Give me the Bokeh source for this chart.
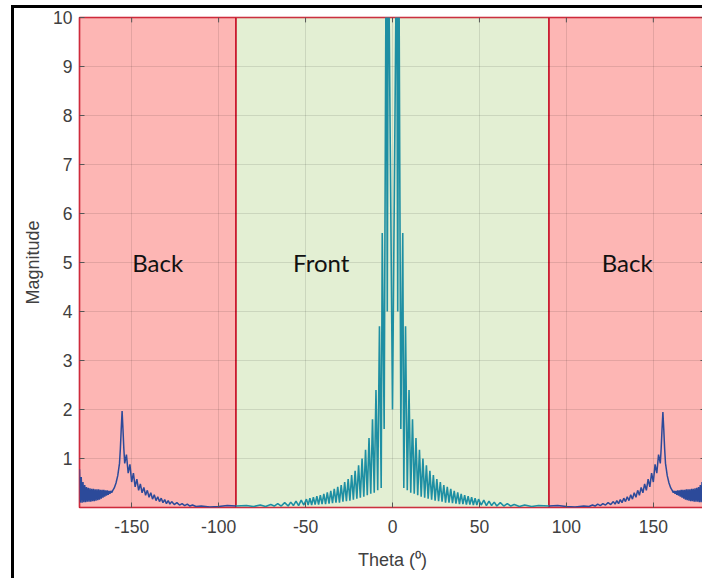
from bokeh.plotting import figure
from bokeh.models import ColumnDataSource, FixedTicker
from bokeh.core.properties import value
from bokeh.embed import file_html
from bokeh.resources import INLINE

# ---- data ----
region_names = ["Back", "Front", "Back"]
region_start = [-180, -90, 90]
region_end = [-90, 90, 180]
region_label_x = [-135, -41, 135]
region_label_y = [5, 5, 5]

x_ticks = [-150, -100, -50, 0, 50, 100, 150]
x_tick_labels = ["-150", "-100", "-50", "0", "50", "100", "150"]
y_ticks = [1, 2, 3, 4, 5, 6, 7, 8, 9, 10]

# front (teal) trace
front_theta = [
    -90, -84, -80, -76, -73, -70, -68, -66, -64, -62, -60, -58.5, -57, -55.5, -54, -52.5, -51,
    -49.5, -48.5, -47.5, -46.5, -45.5, -44.5, -43.5, -42.5, -41.5, -40.5, -39.5, -38.5, -37.5,
    -36.5, -35.5, -34.5, -33.5, -32.5, -31.5, -30.5, -29.5, -28.5, -27.5, -26.5, -25.5, -24.5,
    -23.5, -22.5, -21.5, -20.5, -19.5, -18.5, -17.5, -16.5, -15.5, -14.5, -13.5, -12.5, -11.5,
    -10.5, -9.5, -8.5, -7.5, -6.5,
    -5.9, -4.8, -3.6, -3.0, -2.4, 0, 2.4, 3.0, 3.6, 4.8, 5.9,
    6.5, 7.5, 8.5, 9.5, 10.5, 11.5, 12.5, 13.5, 14.5, 15.5, 16.5, 17.5, 18.5, 19.5, 20.5, 21.5,
    22.5, 23.5, 24.5, 25.5, 26.5, 27.5, 28.5, 29.5, 30.5, 31.5, 32.5, 33.5, 34.5, 35.5, 36.5,
    37.5, 38.5, 39.5, 40.5, 41.5, 42.5, 43.5, 44.5, 45.5, 46.5, 47.5, 48.5, 49.5, 51, 52.5, 54,
    55.5, 57, 58.5, 60, 62, 64, 66, 68, 70, 73, 76, 80, 84, 90,
]
front_mag = [
    0.03, 0.04, 0.02, 0.05, 0.02, 0.06, 0.03, 0.08, 0.03, 0.10, 0.03, 0.11, 0.04, 0.13, 0.04, 0.15, 0.05,
    0.17, 0.05, 0.19, 0.05, 0.21, 0.06, 0.23, 0.06, 0.25, 0.07, 0.28, 0.07, 0.31,
    0.08, 0.34, 0.09, 0.38, 0.10, 0.42, 0.10, 0.46, 0.12, 0.52, 0.13, 0.58, 0.14,
    0.66, 0.16, 0.75, 0.18, 0.86, 0.20, 1.00, 0.22, 1.18, 0.25, 1.42, 0.28, 1.80,
    0.30, 2.40, 0.35, 3.70, 0.40,
    5.6, 1.6, 12.0, 4.0, 12.0, 2.0, 12.0, 4.0, 12.0, 1.6, 5.6,
    0.40, 3.70, 0.35, 2.40, 0.30, 1.80, 0.28, 1.42, 0.25, 1.18, 0.22, 1.00, 0.20, 0.86, 0.18, 0.75,
    0.16, 0.66, 0.14, 0.58, 0.13, 0.52, 0.12, 0.46, 0.10, 0.42, 0.10, 0.38, 0.09, 0.34, 0.08,
    0.31, 0.07, 0.28, 0.07, 0.25, 0.06, 0.23, 0.06, 0.21, 0.05, 0.19, 0.05, 0.17, 0.05, 0.15, 0.04,
    0.13, 0.04, 0.11, 0.03, 0.10, 0.03, 0.08, 0.03, 0.06, 0.02, 0.05, 0.02, 0.04, 0.03,
]

# back (blue) trace, left side
back_left_theta = [
    -180, -179.5, -179, -178.5, -178, -177.5, -177, -176.5, -176, -175.5, -175, -174.5, -174,
    -173.5, -173, -172.5, -172, -171.5, -171, -170.5, -170, -169.5, -169, -168.5, -168, -167.5,
    -167, -166.5, -166, -165.5, -165, -164.5, -164, -163.5, -163, -162.5, -162, -161.5, -161,
    -160, -159, -158, -157, -156.5, -156, -155.5, -155, -154.5, -154, -153, -152, -151, -150,
    -149, -148, -147, -146, -145, -144, -143, -142, -141, -140, -139, -138, -137, -136, -135,
    -134, -133, -132, -131, -130, -129, -128, -127, -125.5, -124, -122.5, -121, -119.5, -118,
    -116.5, -115, -113, -110, -105, -100, -95, -90,
]
back_left_mag = [
    0.78, 0.10, 0.62, 0.10, 0.52, 0.11, 0.46, 0.11, 0.42, 0.12, 0.40, 0.12, 0.39,
    0.12, 0.38, 0.13, 0.38, 0.13, 0.37, 0.14, 0.37, 0.15, 0.37, 0.16, 0.36, 0.18,
    0.36, 0.20, 0.36, 0.22, 0.35, 0.24, 0.35, 0.26, 0.34, 0.28, 0.34, 0.30, 0.34,
    0.40, 0.50, 0.65, 0.90, 1.20, 1.60, 1.97, 1.60, 1.20, 0.90, 1.08, 0.70, 0.88, 0.52,
    0.70, 0.42, 0.58, 0.35, 0.48, 0.30, 0.41, 0.25, 0.35, 0.21, 0.30, 0.17, 0.26, 0.14, 0.22,
    0.12, 0.19, 0.10, 0.16, 0.08, 0.14, 0.07, 0.12, 0.06, 0.10, 0.05, 0.08, 0.04, 0.07,
    0.03, 0.05, 0.02, 0.03, 0.01, 0.02, 0.04, 0.03,
]

# back (blue) trace, right side
back_right_theta = [
    90, 95, 100, 105, 110, 113, 115, 116.5, 118, 119.5, 121, 122.5, 124, 125.5, 127, 128, 129,
    130, 131, 132, 133, 134, 135, 136, 137, 138, 139, 140, 141, 142, 143, 144, 145, 146, 147,
    148, 149, 150, 151, 152, 153, 154, 154.5, 155, 155.5, 156, 156.5, 157, 158, 159, 160,
    161, 161.5, 162, 162.5, 163, 163.5, 164, 164.5, 165, 165.5, 166, 166.5, 167, 167.5, 168,
    168.5, 169, 169.5, 170, 170.5, 171, 171.5, 172, 172.5, 173, 173.5, 174, 174.5, 175, 175.5,
    176, 176.5, 177, 177.5, 178, 178.5, 179, 179.5, 180,
]
back_right_mag = [
    0.03, 0.04, 0.02, 0.01, 0.03, 0.02, 0.05, 0.03, 0.07, 0.04, 0.08, 0.05, 0.10, 0.06, 0.12, 0.07, 0.14,
    0.08, 0.16, 0.10, 0.19, 0.12, 0.22, 0.14, 0.26, 0.17, 0.30, 0.21, 0.35, 0.25, 0.41, 0.30, 0.48, 0.35, 0.58,
    0.42, 0.70, 0.52, 0.88, 0.70, 1.08, 0.90, 1.20, 1.60, 1.95, 1.60, 1.20, 0.90, 0.65, 0.50, 0.40,
    0.34, 0.30, 0.34, 0.28, 0.34, 0.26, 0.35, 0.24, 0.35, 0.22, 0.36, 0.20, 0.36, 0.18, 0.36,
    0.16, 0.37, 0.15, 0.37, 0.14, 0.37, 0.13, 0.38, 0.13, 0.38, 0.12, 0.39, 0.12, 0.40, 0.12,
    0.42, 0.11, 0.46, 0.11, 0.52, 0.10, 0.60, 0.10, 0.64,
]

# ---- styles ----
REGION_FILL = {"Back": "#FDB6B4", "Front": "#E3EFD3"}
EDGE_RED = "#C8162B"
TEAL = "#1E8FA3"
BLUE = "#2C4A9A"
TICK_FONT = "Liberation Sans"
LABEL_COLOR = "#404040"
TICK_COLOR = "#555555"

p = figure(
    width=691, height=573,
    x_range=(-180, 180), y_range=(0, 10),
    output_backend="svg", toolbar_location=None,
    min_border_left=65, min_border_right=0, min_border_top=9, min_border_bottom=74,
    background_fill_color="white", border_fill_color="white",
)
p.styles = {"border-left": "3px solid black", "border-top": "3px solid black"}
p.margin = (5, 0, 0, 11)

regions = ColumnDataSource(dict(
    left=region_start, right=region_end,
    bottom=[0, 0, 0], top=[10, 10, 10],
    fill=[REGION_FILL[n] for n in region_names],
))
p.quad(left="left", right="right", bottom="bottom", top="top", source=regions,
       fill_color="fill", line_color=EDGE_RED, line_width=1.6, level="image")

# mirrored tick marks on the top and right edges of the box
x_lo, x_hi = p.x_range.start, p.x_range.end
y_lo, y_hi = p.y_range.start, p.y_range.end
tick_len_y = (y_hi - y_lo) * 0.01
tick_len_x = (x_hi - x_lo) * 0.008
p.segment(x0=x_ticks, x1=x_ticks, y0=[y_hi] * len(x_ticks),
          y1=[y_hi - tick_len_y] * len(x_ticks), line_color=TICK_COLOR, line_width=1)
p.segment(x0=[x_hi] * len(y_ticks), x1=[x_hi - tick_len_x] * len(y_ticks),
          y0=y_ticks, y1=y_ticks, line_color=TICK_COLOR, line_width=1)

p.line(front_theta, front_mag, line_color=TEAL, line_width=1.6)
p.line(back_left_theta, back_left_mag, line_color=BLUE, line_width=1.5)
p.line(back_right_theta, back_right_mag, line_color=BLUE, line_width=1.5)

labels = ColumnDataSource(dict(x=region_label_x, y=region_label_y, text=region_names))
p.text(x="x", y="y", text="text", source=labels, text_font=value("Lato"),
       text_font_size="24px", text_color="#111111", text_align="center",
       text_baseline="middle")

p.outline_line_color = EDGE_RED
p.outline_line_width = 1.6

xaxis = p.below[0]
yaxis = p.left[0]
xaxis.ticker = FixedTicker(ticks=x_ticks)
xaxis.major_label_overrides = {t: s for t, s in zip(x_ticks, x_tick_labels)}
yaxis.ticker = FixedTicker(ticks=y_ticks)
xaxis.axis_label = "Theta (\u2070)"
yaxis.axis_label = "Magnitude"
for ax in (xaxis, yaxis):
    ax.axis_line_color = None
    ax.major_tick_in = 5
    ax.major_tick_out = 0
    ax.major_tick_line_color = TICK_COLOR
    ax.minor_tick_line_color = None
    ax.major_label_text_font = TICK_FONT
    ax.major_label_text_font_size = "17.5px"
    ax.major_label_text_color = LABEL_COLOR
    ax.axis_label_text_font = TICK_FONT
    ax.axis_label_text_font_size = "18px"
    ax.axis_label_text_font_style = "normal"
    ax.axis_label_text_color = LABEL_COLOR
xaxis.major_label_standoff = 12
xaxis.axis_label_standoff = 14
yaxis.major_label_standoff = 7
yaxis.axis_label_standoff = 7

p.grid.grid_line_color = "#000000"
p.grid.grid_line_alpha = 0.1
p.grid.level = "underlay"

open("out.html", "w").write(file_html(p, INLINE))
